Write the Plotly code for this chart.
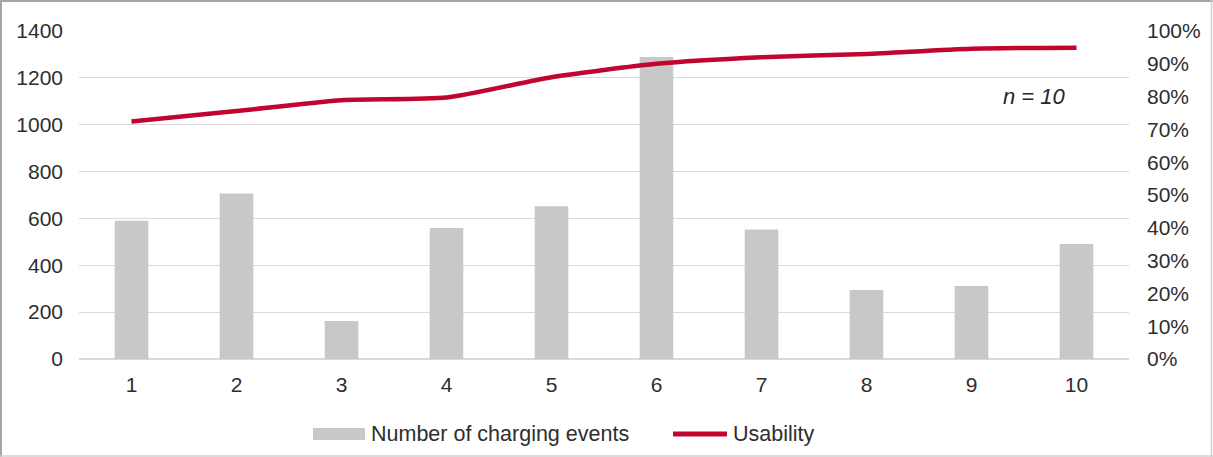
import plotly.graph_objects as go

categories = ["1", "2", "3", "4", "5", "6", "7", "8", "9", "10"]
charging_events = [590, 706, 162, 559, 652, 1289, 553, 294, 312, 491]
usability = [0.724, 0.756, 0.789, 0.797, 0.859, 0.900, 0.920, 0.930, 0.946, 0.949]
left_ticks = [0, 200, 400, 600, 800, 1000, 1200, 1400]
right_ticks = [i / 10 for i in range(11)]

W, H = 1213, 457
ml, mr, mt, mb = 79, 84, 31, 98
pw, ph = W - ml - mr, H - mt - mb

def px(x):
    return (x - ml) / pw

def py(y):
    return (H - mb - y) / ph

font_family = "Liberation Sans, Arial, sans-serif"
txt = "#2e2e2e"
bar_color = "#c8c8c8"
line_color = "#c0052f"
fs = 21
legend_fs = 21.5

fig = go.Figure()
fig.add_trace(go.Bar(
    x=categories, y=charging_events, name="Number of charging events",
    marker=dict(color=bar_color, line=dict(width=0)), width=0.32,
    yaxis="y",
))
fig.add_trace(go.Scatter(
    x=categories, y=usability, name="Usability", mode="lines",
    line=dict(color=line_color, width=4.5, shape="spline", smoothing=0.6),
    yaxis="y2",
))

def edge(x0, y0, x1, y1, color, width):
    return dict(type="line", xref="paper", yref="paper",
                x0=px(x0), y0=py(y0), x1=px(x1), y1=py(y1),
                line=dict(color=color, width=width), layer="below")

shapes = [
    edge(1, 0, 1, H, "#a6a6a6", 2),          # left
    edge(0, 1, W, 1, "#a6a6a6", 2),          # top
    edge(W - 1.5, 0, W - 1.5, H, "#d0d0d0", 1.5),  # right
    edge(0, H - 1, W, H - 1, "#d0d0d0", 1.5),      # bottom
    # legend symbols
    dict(type="rect", xref="paper", yref="paper",
         x0=px(313), x1=px(365), y0=py(440), y1=py(428),
         fillcolor=bar_color, line=dict(width=0)),
    dict(type="line", xref="paper", yref="paper",
         x0=px(673), x1=px(727), y0=py(434), y1=py(434),
         line=dict(color=line_color, width=5)),
]

annotations = [
    dict(text="<i>n = 10</i>", x=px(1034), y=py(97), xref="paper", yref="paper",
         showarrow=False, xanchor="center", yanchor="middle",
         font=dict(size=22, color="#262626")),
    dict(text="Number of charging events", x=px(369), y=py(434),
         xref="paper", yref="paper", showarrow=False,
         xanchor="left", yanchor="middle", font=dict(size=legend_fs, color=txt)),
    dict(text="Usability", x=px(731), y=py(434),
         xref="paper", yref="paper", showarrow=False,
         xanchor="left", yanchor="middle", font=dict(size=legend_fs, color=txt)),
]

fig.update_layout(
    width=W, height=H,
    margin=dict(l=ml, r=mr, t=mt, b=mb, autoexpand=False),
    paper_bgcolor="white", plot_bgcolor="white",
    font=dict(family=font_family, size=fs, color=txt),
    showlegend=False,
    xaxis=dict(type="category", range=[-0.5, 9.5], showgrid=False,
               showline=False, ticks="", automargin=False,
               ticklabelstandoff=11, tickfont=dict(size=fs, color=txt)),
    yaxis=dict(range=[0, 1400], tickvals=left_ticks, showgrid=True,
               gridcolor="#d9d9d9", gridwidth=1, zeroline=True,
               zerolinecolor="#d9d9d9", zerolinewidth=1.5,
               ticks="", ticklabelstandoff=15, automargin=False,
               tickfont=dict(size=fs, color=txt)),
    yaxis2=dict(range=[0, 1], tickvals=right_ticks, tickformat=".0%",
                overlaying="y", side="right", showgrid=False,
                zeroline=False, ticks="", ticklabelstandoff=17,
                automargin=False, tickfont=dict(size=fs, color=txt)),
    annotations=annotations,
    shapes=shapes,
)

fig.write_html(
    "out.html",
    config={"displayModeBar": False},
    post_script="document.body.style.margin='0px';document.body.style.overflow='hidden';",
)
